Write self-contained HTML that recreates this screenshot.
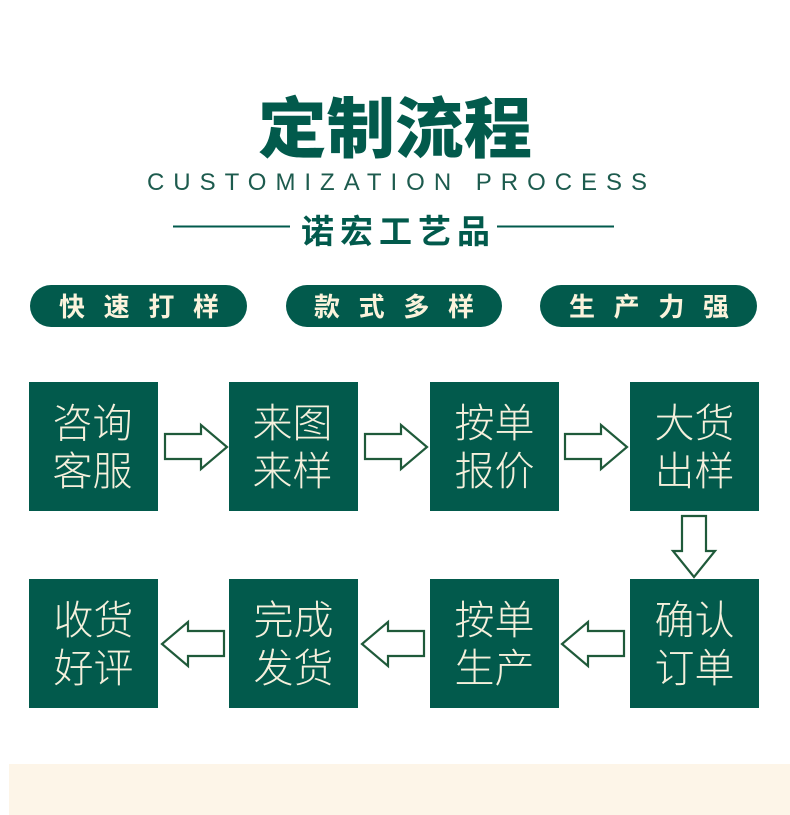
<!DOCTYPE html>
<html><head><meta charset="utf-8"><style>
html,body{margin:0;padding:0;background:#fff;}
svg{display:block}
text{font-family:"Liberation Sans","Noto Sans CJK SC",sans-serif;}
</style></head><body>
<svg width="790" height="815" viewBox="0 0 790 815" xmlns="http://www.w3.org/2000/svg">
<rect x="9" y="764" width="781" height="51" fill="#fdf5e8"/>
<text x="395" y="152" text-anchor="middle" font-size="66" font-weight="900" fill="#025a4c" textLength="274" lengthAdjust="spacingAndGlyphs">定制流程</text>
<text x="147" y="190" font-size="24" font-weight="300" fill="#1d5b4e" textLength="500" lengthAdjust="spacing">CUSTOMIZATION PROCESS</text>
<line x1="173" y1="226.5" x2="290" y2="226.5" stroke="#025a4c" stroke-width="2"/>
<line x1="497" y1="226.5" x2="614" y2="226.5" stroke="#025a4c" stroke-width="2"/>
<text x="301" y="243" font-size="33" font-weight="bold" fill="#025a4c" textLength="189" lengthAdjust="spacing">诺宏工艺品</text>
<g fill="#025a4c">
<rect x="30" y="285" width="217" height="42" rx="21"/>
<rect x="286" y="285" width="216" height="42" rx="21"/>
<rect x="540" y="285" width="217" height="42" rx="21"/>
</g>
<g fill="#fbf3dc" font-size="26" font-weight="bold">
<text x="59" y="316" textLength="160" lengthAdjust="spacing">快速打样</text>
<text x="314" y="316" textLength="160" lengthAdjust="spacing">款式多样</text>
<text x="569" y="316" textLength="160" lengthAdjust="spacing">生产力强</text>
</g>
<g fill="#025a4c">
<rect x="29" y="382" width="129" height="129"/>
<rect x="229" y="382" width="129" height="129"/>
<rect x="430" y="382" width="129" height="129"/>
<rect x="630" y="382" width="129" height="129"/>
<rect x="29" y="579" width="129" height="129"/>
<rect x="229" y="579" width="129" height="129"/>
<rect x="430" y="579" width="129" height="129"/>
<rect x="630" y="579" width="129" height="129"/>
</g>
<g fill="#f5f0dc" font-size="40" font-weight="300" text-anchor="middle">
<text x="92.5" y="437">咨询</text><text x="92.5" y="485">客服</text>
<text x="292.5" y="437">来图</text><text x="292.5" y="485">来样</text>
<text x="494.5" y="437">按单</text><text x="494.5" y="485">报价</text>
<text x="694.5" y="437">大货</text><text x="694.5" y="485">出样</text>
<text x="93.5" y="634">收货</text><text x="93.5" y="682">好评</text>
<text x="293.5" y="634">完成</text><text x="293.5" y="682">发货</text>
<text x="494.5" y="634">按单</text><text x="494.5" y="682">生产</text>
<text x="694.5" y="634">确认</text><text x="694.5" y="682">订单</text>
</g>
<g fill="#fff" stroke="#1f5a3a" stroke-width="2.2" stroke-linejoin="miter">
<polygon points="165,434 201,434 201,425 227,447 201,469 201,459 165,459"/>
<polygon points="365,434 401,434 401,425 427,447 401,469 401,459 365,459"/>
<polygon points="565,434 601,434 601,425 627,447 601,469 601,459 565,459"/>
<polygon points="682,516 706,516 706,551 715,551 694,577 673,551 682,551"/>
<polygon points="624,631 588,631 588,622 562,644 588,666 588,656 624,656"/>
<polygon points="424,631 388,631 388,622 362,644 388,666 388,656 424,656"/>
<polygon points="224,631 188,631 188,622 162,644 188,666 188,656 224,656"/>
</g>
</svg>
</body></html>
